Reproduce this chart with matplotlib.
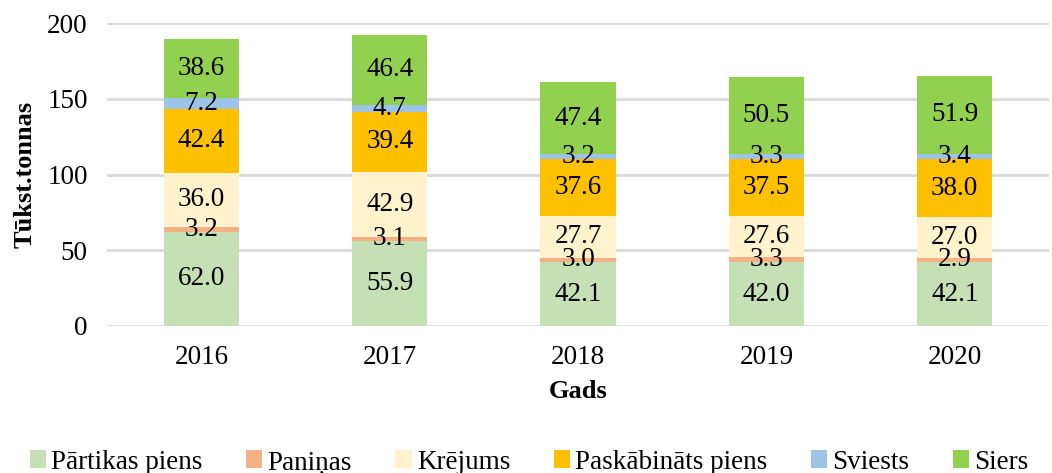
import numpy as np
import matplotlib.pyplot as plt

plt.rcParams['font.family'] = ['Liberation Serif', 'DejaVu Serif']

# data
years = ['2016', '2017', '2018', '2019', '2020']
series_names = ['Pārtikas piens', 'Paniņas', 'Krējums', 'Paskābināts piens', 'Sviests', 'Siers']
partikas = [62.0, 55.9, 42.1, 42.0, 42.1]
paninas = [3.2, 3.1, 3.0, 3.3, 2.9]
krejums = [36.0, 42.9, 27.7, 27.6, 27.0]
paskabinats = [42.4, 39.4, 37.6, 37.5, 38.0]
sviests = [7.2, 4.7, 3.2, 3.3, 3.4]
siers = [38.6, 46.4, 47.4, 50.5, 51.9]
colors = ['#C5E0B4', '#F4B183', '#FFF2CC', '#FFC000', '#9DC3E6', '#92D050']

fig = plt.figure(figsize=(10.52, 4.73), dpi=100)
ax = fig.add_axes([0.102, 0.311, 0.895, 0.640])

x = np.arange(len(years))
bottom = np.zeros(len(years))
for name, vals, c in zip(series_names, [partikas, paninas, krejums, paskabinats, sviests, siers], colors):
    vals = np.array(vals)
    bars = ax.bar(x, vals, 0.4, bottom=bottom, color=c, label=name, zorder=3)
    ax.bar_label(bars, labels=[f'{v:.1f}' for v in vals], label_type='center', fontsize=19.5, zorder=4)
    bottom += vals

ax.set_xlim(-0.5, 4.5)
ax.set_ylim(0, 200)
ax.set_yticks([0, 50, 100, 150, 200])
ax.set_xticks(x)
ax.set_xticklabels(years)
ax.tick_params(axis='both', length=0, labelsize=19.5)
ax.tick_params(axis='x', pad=14)
ax.tick_params(axis='y', pad=14)
ax.grid(axis='y', color='#D9D9D9', linewidth=2, zorder=0)
for s in ax.spines.values():
    s.set_visible(False)

ax.set_xlabel('Gads', fontsize=19, fontweight='bold', labelpad=7)
ax.set_ylabel('Tūkst.tonnas', fontsize=19, fontweight='bold', labelpad=8)

fig.legend(loc='lower center', bbox_to_anchor=(0.503, -0.055), ncol=6, frameon=False,
           fontsize=19.5, handlelength=0.6, handleheight=0.6, handletextpad=0.2, columnspacing=1.6)

fig.savefig('out.png', dpi=100)
